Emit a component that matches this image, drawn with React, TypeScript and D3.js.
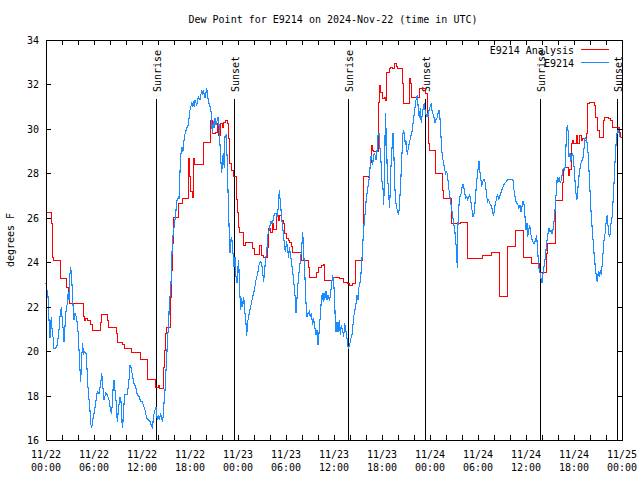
import React from "react";
import * as d3 from "d3";

const TITLE = "Dew Point for E9214 on 2024-Nov-22 (time in UTC)";
const Y_LABEL = "degrees F";
const START_UTC = Date.UTC(2024, 10, 22, 0, 0);
const HOURS_SPAN = 72;
const Y_MIN = 16;
const Y_MAX = 34;
const Y_TICKS = [16, 18, 20, 22, 24, 26, 28, 30, 32, 34];
const SERIES_NAMES = ["E9214 Analysis", "E9214"];
const SERIES_COLORS = ["#ff0000", "#1a8cff"];
const EVENT_LABELS = ["Sunrise", "Sunset", "Sunrise", "Sunset", "Sunrise", "Sunset"];
const EVENT_HOURS = [13.79, 23.54, 37.79, 47.42, 61.79, 71.42];

// [hours since 11/22 00:00 UTC, dew point °F]
const analysisSeries: [number, number][] = [
  [0, 26.25], [0.6, 25.75], [0.72, 24.25], [0.85, 24.1], [1.75, 23.27], [2.55, 22.9], [2.75, 22.5], [2.9, 22.18],
  [4.66, 21.6], [4.75, 21.4], [4.9, 21.5], [5.1, 21.4], [5.5, 21.2], [5.75, 20.95], [6.7, 21.3], [6.85, 21.66],
  [7.6, 21.4], [7.75, 21.1], [8.7, 20.8], [8.83, 20.41], [9.55, 20.3], [9.75, 20.12], [10.6, 19.95], [11.7, 19.8],
  [11.75, 19.64], [12.6, 18.74], [13.6, 18.4], [14.0, 18.48], [14.15, 18.33], [14.66, 19.3], [14.75, 20.05],
  [14.9, 20.8], [15.0, 21.1], [15.5, 22.45], [15.6, 23.65], [15.7, 24.85], [15.85, 26.05], [16.5, 26.65],
  [16.96, 26.88], [17.69, 28.68], [17.875, 27.9], [18.06, 27.2], [18.2, 26.95], [18.375, 28.7], [18.56, 28.4],
  [19.66, 29.43], [20.54, 30.4], [20.79, 29.8], [21.125, 29.87], [21.34, 30.25], [21.54, 29.73], [21.75, 30.25],
  [22.0, 30.1], [22.16, 30.33], [22.375, 30.4], [22.59, 30.25], [22.71, 29.6], [22.91, 28.45], [23.09, 28.15],
  [23.34, 27.88], [23.75, 26.85], [23.875, 26.27], [24.0, 25.6], [24.1, 25.35], [24.66, 24.78], [24.91, 24.93],
  [25.75, 24.63], [26.04, 24.37], [26.66, 24.78], [26.875, 24.33], [27.09, 24.25], [27.6, 24.7], [27.79, 25.52],
  [28.04, 25.35], [28.2, 25.75], [28.41, 25.5], [28.75, 26.13], [28.96, 25.9], [29.16, 26.13], [29.375, 25.9],
  [29.59, 25.75], [29.79, 25.3], [30.0, 25.08], [30.21, 25.0], [30.41, 24.93], [30.59, 24.75], [30.75, 24.48],
  [31.875, 24.1], [32.71, 23.8], [32.91, 23.35], [33.75, 23.57], [33.96, 23.8], [34.375, 23.875], [34.59, 23.9],
  [34.71, 23.2], [35.75, 23.35], [36.59, 23.27], [37.1, 23.1], [37.6, 23.05], [37.84, 22.98], [38.25, 23.05],
  [38.59, 24.1], [39.5, 25.0], [39.625, 27.9], [40.25, 27.85], [40.41, 28.3], [40.54, 28.53], [40.66, 29.28],
  [40.75, 29.05], [40.875, 29.0], [41.5, 31.23], [41.66, 31.98], [41.79, 31.68], [42.0, 31.38], [42.21, 31.45],
  [42.41, 31.3], [42.54, 32.57], [42.84, 32.72], [43.04, 32.8], [43.25, 32.72], [43.46, 32.95], [43.75, 32.85],
  [43.875, 32.72], [44.5, 32.05], [44.625, 31.15], [45.34, 32.28], [45.5, 32.05], [45.66, 31.45], [46.59, 31.82],
  [47.41, 31.6], [47.625, 30.63], [47.8, 29.35], [47.9, 29.05], [48.59, 28.23], [48.625, 28.03], [49.54, 27.25],
  [49.625, 26.88], [50.59, 26.05], [50.66, 25.75], [51.71, 25.82], [52.625, 24.18], [54.54, 24.33], [55.66, 24.45],
  [56.59, 22.98], [56.625, 22.48], [57.59, 24.18], [57.66, 24.75], [58.59, 25.45], [59.625, 24.25], [60.625, 23.95],
  [61.625, 23.55], [62.46, 24.4], [62.66, 24.85], [63.59, 25.82], [63.625, 26.8], [64.54, 27.63], [64.66, 28.15],
  [64.81, 28.27], [65.29, 27.93], [65.375, 28.2], [65.59, 29.35], [65.75, 29.5], [65.91, 29.35], [66.21, 29.73],
  [66.41, 29.35], [66.625, 29.73], [66.84, 29.5], [67.04, 29.6], [67.25, 29.5], [67.46, 29.8], [67.66, 31.15],
  [67.875, 31.23], [68.5, 31.08], [68.625, 30.55], [68.84, 29.95], [69.125, 29.65], [69.625, 30.4], [69.75, 30.55],
  [70.25, 30.5], [70.5, 30.4], [70.79, 30.1], [71.625, 29.87], [71.75, 29.65], [71.9, 29.65],
];

const observedSeries: [number, number][] = [
  [0, 23.05], [0.25, 22.45], [0.375, 21.4], [0.5, 20.58], [0.59, 21.1], [0.66, 21.55], [0.79, 20.8], [0.91, 20.58],
  [1.0, 20.13], [1.21, 20.13], [1.41, 20.28], [1.625, 20.95], [1.75, 21.55], [1.91, 21.97], [2.04, 21.4], [2.16, 20.95],
  [2.25, 20.43], [2.375, 21.1], [2.46, 21.7], [2.66, 22.15], [2.79, 22.68], [2.875, 22.3], [3.0, 23.5], [3.09, 23.77],
  [3.21, 23.28], [3.375, 22.08], [3.5, 21.4], [3.625, 21.7], [3.79, 21.55], [3.91, 21.25], [4.04, 20.73], [4.21, 19.38],
  [4.34, 18.63], [4.46, 19.75], [4.59, 20.35], [4.66, 19.83], [4.84, 19.98], [5.0, 19.9], [5.16, 19.0], [5.29, 18.1],
  [5.46, 17.58], [5.59, 16.75], [5.71, 16.53], [5.84, 16.9], [6.0, 17.2], [6.21, 17.65], [6.41, 18.18], [6.625, 18.1],
  [6.84, 18.55], [6.96, 19.0], [7.09, 18.48], [7.25, 17.8], [7.46, 18.1], [7.66, 18.03], [7.875, 17.8], [8.09, 17.28],
  [8.21, 17.2], [8.375, 18.25], [8.5, 18.7], [8.625, 18.25], [8.75, 17.8], [8.91, 16.83], [9.09, 17.5], [9.25, 17.95],
  [9.375, 17.73], [9.46, 16.9], [9.59, 16.53], [9.66, 17.2], [9.84, 18.03], [10.16, 18.03], [10.375, 18.7], [10.5, 19.38],
  [10.66, 19.23], [10.79, 18.93], [11.0, 18.55], [11.21, 18.4], [11.41, 18.03], [11.625, 17.95], [11.84, 17.73],
  [12.04, 17.73], [12.16, 17.58], [12.375, 17.35], [12.59, 16.98], [12.79, 16.9], [13.0, 16.83], [13.21, 16.6],
  [13.34, 16.53], [13.41, 17.05], [13.625, 17.35], [13.75, 17.5], [13.91, 16.9], [14.04, 17.13], [14.16, 16.9],
  [14.34, 17.2], [14.46, 16.98], [14.59, 16.83], [14.75, 17.65], [14.875, 18.25], [15.0, 19.15], [15.09, 19.75],
  [15.21, 20.65], [15.34, 21.25], [15.41, 22.15], [15.5, 22.45], [15.625, 23.05], [15.71, 23.95], [15.79, 24.85],
  [15.91, 25.3], [16.125, 25.9], [16.25, 26.35], [16.34, 26.73], [16.46, 26.88], [16.625, 26.88], [16.75, 28.08],
  [16.875, 28.9], [17.0, 29.2], [17.09, 28.98], [17.16, 29.05], [17.29, 29.65], [17.41, 29.8], [17.59, 30.03],
  [17.79, 30.18], [18.0, 30.85], [18.21, 31.15], [18.34, 31.0], [18.41, 31.23], [18.54, 31.0], [18.625, 31.3],
  [18.84, 31.08], [19.04, 31.45], [19.25, 31.3], [19.46, 31.75], [19.59, 31.53], [19.66, 31.75], [19.875, 31.38],
  [20.09, 31.83], [20.21, 31.45], [20.375, 31.15], [20.5, 31.0], [20.625, 30.78], [20.71, 30.33], [20.79, 29.8],
  [20.91, 30.33], [21.0, 30.03], [21.125, 30.48], [21.25, 30.18], [21.41, 30.4], [21.54, 30.55], [21.66, 30.03],
  [21.75, 29.28], [21.84, 28.68], [21.96, 28.0], [22.04, 28.45], [22.16, 28.9], [22.29, 28.23], [22.375, 29.65],
  [22.5, 29.73], [22.59, 29.05], [22.66, 28.6], [22.79, 26.65], [22.91, 25.3], [23.0, 24.4], [23.09, 25.0],
  [23.21, 25.15], [23.34, 24.55], [23.5, 23.8], [23.625, 24.25], [23.75, 23.35], [23.875, 23.05], [23.96, 23.65],
  [24.09, 24.1], [24.16, 23.2], [24.25, 22.45], [24.34, 21.85], [24.46, 22.38], [24.59, 22.0], [24.71, 22.45],
  [24.875, 21.7], [25.0, 21.25], [25.09, 20.68], [25.21, 21.33], [25.41, 21.7], [25.625, 22.08], [25.84, 22.45],
  [26.04, 22.75], [26.25, 23.2], [26.46, 23.5], [26.66, 23.95], [26.79, 24.03], [26.96, 23.95], [27.09, 23.5],
  [27.21, 23.13], [27.29, 23.5], [27.41, 23.95], [27.5, 24.25], [27.625, 24.63], [27.71, 25.23], [27.84, 25.38],
  [27.91, 25.45], [28.04, 25.75], [28.125, 25.83], [28.25, 25.75], [28.41, 25.9], [28.54, 26.2], [28.75, 26.2],
  [28.875, 26.05], [29.0, 26.35], [29.09, 26.8], [29.16, 27.25], [29.29, 26.73], [29.41, 26.2], [29.5, 25.83],
  [29.59, 25.53], [29.79, 24.85], [29.91, 24.48], [30.09, 24.93], [30.21, 24.55], [30.34, 24.18], [30.41, 24.7],
  [30.54, 24.4], [30.75, 23.8], [30.91, 23.35], [31.04, 22.83], [31.16, 22.38], [31.25, 21.7], [31.34, 22.15],
  [31.46, 22.9], [31.66, 23.65], [31.875, 24.33], [32.0, 24.85], [32.09, 25.38], [32.21, 24.4], [32.34, 23.65],
  [32.41, 22.9], [32.5, 22.15], [32.625, 21.55], [32.75, 21.7], [32.91, 21.78], [33.04, 21.55], [33.16, 21.7],
  [33.34, 21.18], [33.46, 21.48], [33.59, 21.1], [33.75, 20.73], [33.875, 20.95], [34.0, 20.28], [34.16, 20.95],
  [34.29, 21.63], [34.41, 22.23], [34.54, 22.6], [34.66, 22.23], [34.75, 22.6], [34.84, 22.3], [35.0, 22.68],
  [35.125, 22.3], [35.25, 22.53], [35.41, 22.3], [35.54, 22.45], [35.71, 23.05], [35.84, 23.4], [35.96, 23.13],
  [36.09, 22.23], [36.16, 21.33], [36.25, 20.88], [36.375, 21.33], [36.5, 20.88], [36.66, 21.4], [36.79, 20.73],
  [36.91, 21.18], [37.09, 20.88], [37.21, 20.65], [37.34, 21.25], [37.5, 20.88], [37.625, 20.58], [37.75, 20.2],
  [37.84, 20.13], [37.96, 20.28], [38.125, 20.58], [38.25, 20.73], [38.375, 21.18], [38.5, 21.63], [38.66, 21.93],
  [38.79, 22.23], [38.875, 22.53], [39.0, 22.3], [39.09, 22.83], [39.21, 22.98], [39.375, 23.5], [39.5, 24.18],
  [39.59, 24.78], [39.71, 25.53], [39.84, 25.98], [39.91, 26.28], [40.04, 26.88], [40.16, 27.18], [40.34, 27.63],
  [40.46, 27.93], [40.54, 28.53], [40.66, 28.83], [40.84, 28.38], [40.96, 28.83], [41.09, 28.9], [41.25, 28.6],
  [41.375, 28.98], [41.5, 29.73], [41.625, 29.8], [41.75, 29.13], [41.875, 28.53], [42.0, 27.63], [42.125, 27.33],
  [42.21, 26.58], [42.34, 28.08], [42.41, 30.7], [42.54, 29.73], [42.66, 28.08], [42.84, 27.03], [42.96, 26.43],
  [43.09, 28.08], [43.25, 29.13], [43.375, 29.8], [43.5, 28.68], [43.59, 27.48], [43.71, 26.73], [43.84, 26.43],
  [43.96, 26.28], [44.09, 26.13], [44.21, 26.73], [44.34, 27.63], [44.46, 28.53], [44.59, 29.73], [44.71, 29.95],
  [44.84, 29.65], [44.91, 29.28], [45.04, 29.43], [45.16, 28.83], [45.29, 29.13], [45.41, 29.35], [45.59, 29.65],
  [45.75, 29.88], [45.91, 30.33], [46.04, 30.7], [46.16, 31.08], [46.29, 31.38], [46.41, 31.53], [46.5, 31.08],
  [46.66, 30.48], [46.79, 30.93], [46.91, 30.25], [47.04, 30.7], [47.16, 30.93], [47.29, 31.15], [47.41, 30.78],
  [47.54, 30.55], [47.66, 30.7], [47.75, 30.55], [47.84, 30.78], [47.96, 30.93], [48.16, 31.15], [48.29, 30.7],
  [48.46, 30.63], [48.59, 30.25], [48.71, 30.4], [48.875, 30.48], [49.0, 30.7], [49.125, 30.85], [49.25, 30.48],
  [49.34, 29.95], [49.41, 29.35], [49.54, 28.75], [49.71, 28.45], [49.84, 28.15], [49.96, 28.0], [50.04, 28.08],
  [50.16, 28.0], [50.25, 27.7], [50.375, 27.25], [50.54, 26.8], [50.66, 26.5], [50.79, 26.2], [50.91, 25.9],
  [51.09, 25.45], [51.21, 25.0], [51.34, 24.33], [51.41, 23.73], [51.5, 25.75], [51.625, 26.58], [51.75, 26.95],
  [51.91, 27.1], [52.04, 27.48], [52.16, 27.48], [52.29, 27.25], [52.46, 26.88], [52.59, 26.95], [52.71, 26.8],
  [52.84, 26.95], [52.96, 27.03], [53.09, 26.8], [53.25, 26.35], [53.375, 26.05], [53.5, 26.2], [53.625, 26.65],
  [53.75, 27.25], [53.875, 27.78], [54.0, 28.15], [54.125, 28.53], [54.21, 28.15], [54.34, 27.78], [54.46, 27.4],
  [54.54, 27.55], [54.66, 27.7], [54.84, 27.7], [54.96, 27.4], [55.09, 26.95], [55.21, 26.73], [55.34, 26.8],
  [55.46, 26.65], [55.59, 26.58], [55.71, 26.5], [55.84, 26.2], [55.96, 26.13], [56.09, 26.5], [56.21, 26.65],
  [56.34, 26.95], [56.46, 27.03], [56.59, 26.8], [56.71, 26.95], [56.84, 27.1], [56.96, 27.25], [57.09, 27.33],
  [57.21, 27.48], [57.34, 27.55], [57.54, 27.63], [57.75, 27.73], [58.16, 27.73], [58.375, 27.7], [58.5, 27.25],
  [58.625, 26.95], [58.75, 26.73], [58.875, 26.65], [59.0, 26.58], [59.125, 26.43], [59.25, 26.58], [59.375, 26.28],
  [59.5, 26.5], [59.625, 26.73], [59.75, 26.62], [59.875, 26.05], [60.0, 25.45], [60.125, 25.75], [60.21, 25.15],
  [60.34, 25.45], [60.46, 25.68], [60.59, 25.3], [60.71, 25.08], [60.84, 24.93], [61.0, 24.85], [61.125, 24.93],
  [61.25, 25.08], [61.34, 25.23], [61.41, 24.7], [61.54, 24.1], [61.66, 23.58], [61.79, 23.5], [61.91, 23.2],
  [62.04, 23.05], [62.125, 23.5], [62.25, 23.8], [62.375, 24.1], [62.5, 24.55], [62.625, 25.0], [62.75, 25.3],
  [62.875, 25.53], [63.0, 25.38], [63.125, 25.45], [63.25, 25.3], [63.375, 25.45], [63.5, 25.83], [63.625, 26.35],
  [63.71, 26.8], [63.84, 27.4], [63.91, 27.85], [64.04, 27.63], [64.16, 27.85], [64.29, 27.55], [64.41, 27.7],
  [64.54, 28.0], [64.66, 28.23], [64.79, 28.15], [64.91, 28.3], [65.04, 29.65], [65.16, 30.18], [65.29, 29.8],
  [65.375, 28.75], [65.5, 28.9], [65.59, 28.53], [65.71, 28.75], [65.84, 28.9], [65.96, 28.53], [66.09, 27.85],
  [66.21, 27.25], [66.34, 26.8], [66.41, 26.95], [66.54, 27.55], [66.66, 28.0], [66.79, 28.3], [66.91, 28.53],
  [67.04, 28.6], [67.16, 28.75], [67.29, 29.28], [67.41, 29.65], [67.54, 29.5], [67.66, 29.35], [67.79, 28.75],
  [67.91, 27.85], [68.04, 26.95], [68.16, 26.05], [68.29, 25.45], [68.41, 24.85], [68.54, 24.25], [68.66, 23.8],
  [68.79, 23.35], [68.91, 23.13], [69.04, 23.58], [69.16, 23.35], [69.29, 23.65], [69.41, 23.43], [69.54, 23.95],
  [69.66, 24.55], [69.79, 25.15], [69.91, 25.3], [70.04, 25.9], [70.16, 26.13], [70.29, 25.45], [70.41, 25.15],
  [70.54, 25.3], [70.66, 25.9], [70.79, 26.05], [70.91, 26.95], [71.04, 27.85], [71.16, 28.75], [71.29, 29.5],
  [71.41, 29.88], [71.54, 30.03], [71.66, 29.73], [71.8, 29.6],
];

const W = 640;
const H = 480;
const M = { left: 46, right: 18, top: 40, bottom: 40 };
const FONT = "'DejaVu Sans Mono', 'Liberation Mono', monospace";

const toDate = (h: number) => new Date(START_UTC + h * 3600 * 1000);

export default function App() {
  const x = d3
    .scaleUtc()
    .domain([toDate(0), toDate(HOURS_SPAN)])
    .range([M.left, W - M.right]);
  const y = d3.scaleLinear().domain([Y_MIN, Y_MAX]).range([H - M.bottom, M.top]);

  const majorTicks = x.ticks(d3.utcHour.every(6) as any);
  const minorTicks = x.ticks(d3.utcHour.every(2) as any);
  const fmtDate = d3.utcFormat("%m/%d");
  const fmtTime = d3.utcFormat("%H:%M");

  const stepLine = d3
    .line<[number, number]>()
    .x((d) => Math.round(x(toDate(d[0]))) + 0.5)
    .y((d) => Math.round(y(d[1])) + 0.5)
    .curve(d3.curveStepAfter);
  const plainLine = d3
    .line<[number, number]>()
    .x((d) => x(toDate(d[0])))
    .y((d) => y(d[1]));

  const x0 = M.left;
  const x1 = W - M.right;
  const y0 = H - M.bottom;
  const y1 = M.top;
  const tick = 5;

  return (
    <svg
      width={W}
      height={H}
      style={{ position: "absolute", left: 0, top: 0, background: "#fff" }}
      fontFamily={FONT}
      fontSize={10}
    >
      <rect x={0} y={0} width={W} height={H} fill="#fff" />
      <text x={333} y={23} textAnchor="middle">{TITLE}</text>
      <text transform={`translate(14,240) rotate(-90)`} textAnchor="middle">{Y_LABEL}</text>

      {EVENT_HOURS.map((h, i) => {
        const ex = Math.round(x(toDate(h))) + 0.5;
        return (
          <g key={"ev" + i}>
            <line x1={ex} x2={ex} y1={99} y2={y0} stroke="#000" strokeWidth={1} shapeRendering="crispEdges" />
            <text transform={`translate(${ex + 4},92) rotate(-90)`} textAnchor="start">
              {EVENT_LABELS[i]}
            </text>
          </g>
        );
      })}

      <path d={stepLine(analysisSeries) || ""} fill="none" stroke={SERIES_COLORS[0]} strokeWidth={1} shapeRendering="crispEdges" />
      <path d={plainLine(observedSeries) || ""} fill="none" stroke={SERIES_COLORS[1]} strokeWidth={1.1} shapeRendering="crispEdges" />

      <g shapeRendering="crispEdges" stroke="#000" strokeWidth={1}>
        <rect x={x0 + 0.5} y={y1 + 0.5} width={x1 - x0} height={y0 - y1} fill="none" />
        {minorTicks.map((t, i) => {
          const tx = Math.round(x(t)) + 0.5;
          return (
            <g key={"mt" + i}>
              <line x1={tx} x2={tx} y1={y0} y2={y0 - tick} />
              <line x1={tx} x2={tx} y1={y1} y2={y1 + tick} />
            </g>
          );
        })}
        {Y_TICKS.map((v, i) => {
          const ty = Math.round(y(v)) + 0.5;
          return (
            <g key={"yt" + i}>
              <line x1={x0} x2={x0 + tick} y1={ty} y2={ty} />
              <line x1={x1} x2={x1 - tick} y1={ty} y2={ty} />
            </g>
          );
        })}
      </g>

      {Y_TICKS.map((v, i) => (
        <text key={"yl" + i} x={39} y={y(v) + 4} textAnchor="end">{v}</text>
      ))}
      {majorTicks.map((t, i) => (
        <g key={"xl" + i}>
          <text x={x(t)} y={458} textAnchor="middle">{fmtDate(t)}</text>
          <text x={x(t)} y={471} textAnchor="middle">{fmtTime(t)}</text>
        </g>
      ))}

      {SERIES_NAMES.map((name, i) => (
        <g key={"lg" + i}>
          <text x={574} y={54 + i * 12.5} textAnchor="end">{name}</text>
          <line x1={581} x2={609} y1={49.5 + i * 13} y2={49.5 + i * 13} stroke={SERIES_COLORS[i]} strokeWidth={1} shapeRendering="crispEdges" />
        </g>
      ))}
    </svg>
  );
}
